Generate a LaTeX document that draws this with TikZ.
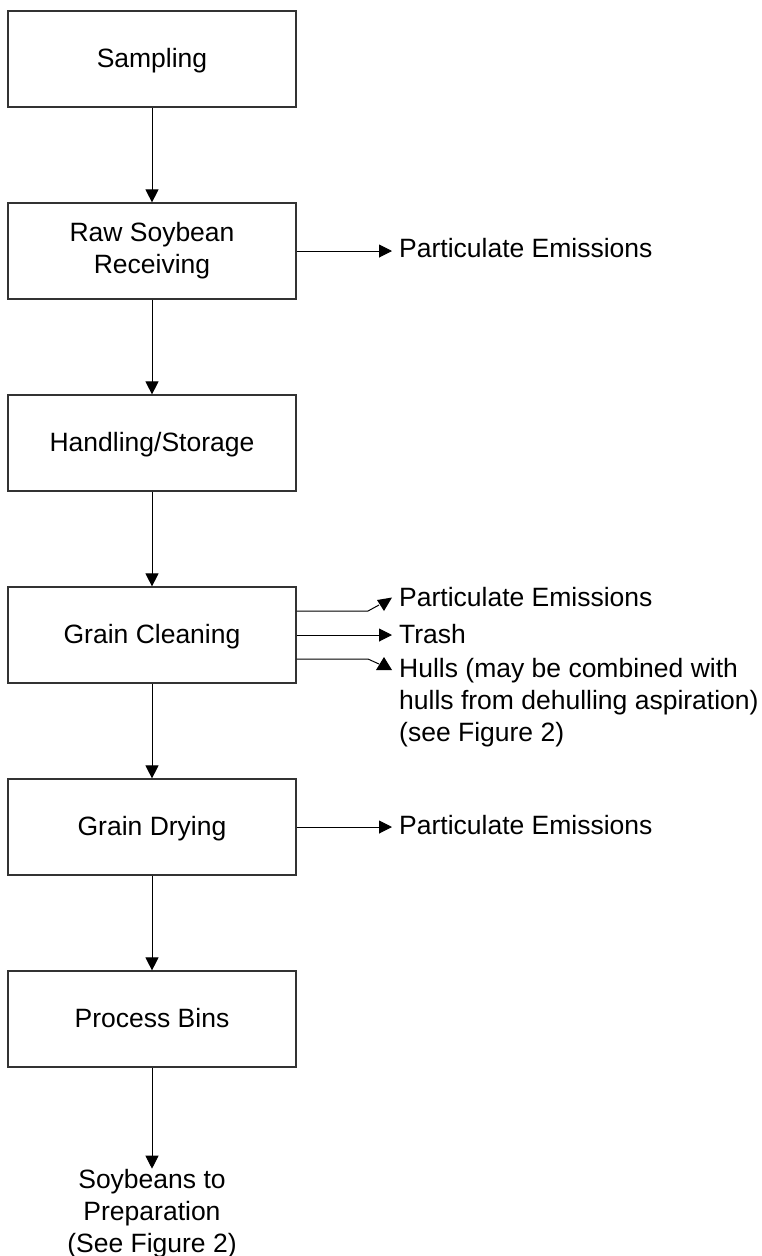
\documentclass[tikz,border=0pt]{standalone}
\usepackage{fontspec}
\setmainfont{Liberation Sans}
\usetikzlibrary{arrows.meta}
\tikzset{
  lbl/.style={font=\fontsize{26.5pt}{32pt}\selectfont, inner sep=0pt},
  flowbox/.style={lbl, draw=black!80, line width=1.2pt, fill=white,
    minimum width=288pt, minimum height=96pt, align=center},
  oneline/.style={text height=19pt, text depth=3pt},
  sidetext/.style={lbl, anchor=base west},
  conn/.style={line width=1pt, draw=black},
  flow/.style={conn, -{Triangle[length=13pt,width=13pt]}},
  headtri/.style={fill=black}
}
\begin{document}
\begin{tikzpicture}[x=1pt,y=-1pt]
\useasboundingbox (0,0) rectangle (761,1256);

% process chain
\node[flowbox,oneline] (samp)  at (152,59)   {Sampling};
\node[flowbox]         (recv)  at (152,251)  {Raw Soybean\\Receiving};
\node[flowbox,oneline] (hand)  at (152,443)  {Handling/Storage};
\node[flowbox,oneline] (clean) at (152,635)  {Grain Cleaning};
\node[flowbox,oneline] (dry)   at (152,827)  {Grain Drying};
\node[flowbox,oneline] (bins)  at (152,1019) {Process Bins};
\node[lbl, align=center, anchor=north] (prep) at (152,1168.7)
  {Soybeans to\\Preparation\\(See Figure 2)};

\draw[flow] (samp) -- (recv);
\draw[flow] (recv) -- (hand);
\draw[flow] (hand) -- (clean);
\draw[flow] (clean) -- (dry);
\draw[flow] (dry) -- (bins);
\draw[flow] (bins.south) -- (prep.north);

% side streams
\node[sidetext] (pe1)   at (399,257) {Particulate Emissions};
\node[sidetext] (pe2)   at (399,606) {Particulate Emissions};
\node[sidetext] (trash) at (399,643) {Trash};
\node[lbl, align=left, anchor=north west] (hulls) at (399,657.7)
  {Hulls (may be combined with\\hulls from dehulling aspiration)\\(see Figure 2)};
\node[sidetext] (pe3)   at (399,834) {Particulate Emissions};

\draw[flow] (recv.east) -- ([xshift=-7pt]pe1.west |- recv.east);
\draw[flow] (clean.east) -- ([xshift=-7pt]trash.west |- clean.east);
\draw[flow] (dry.east) -- ([xshift=-7pt]pe3.west |- dry.east);

% cleaning emissions: bent leads with skewed heads
\coordinate (pebend) at (368,611);
\coordinate (peend)  at (379,605);
\draw[conn] ([yshift=24pt]clean.east) -- (pebend) -- (peend);
\fill[headtri] (377,600) -- (392,597.5) -- (384,611) -- cycle;

\coordinate (hubend) at (368,659);
\coordinate (huend)  at (379,664);
\draw[conn] ([yshift=-24pt]clean.east) -- (hubend) -- (huend);
\fill[headtri] (384,657) -- (392,670) -- (376,670) -- cycle;
\end{tikzpicture}
\end{document}
